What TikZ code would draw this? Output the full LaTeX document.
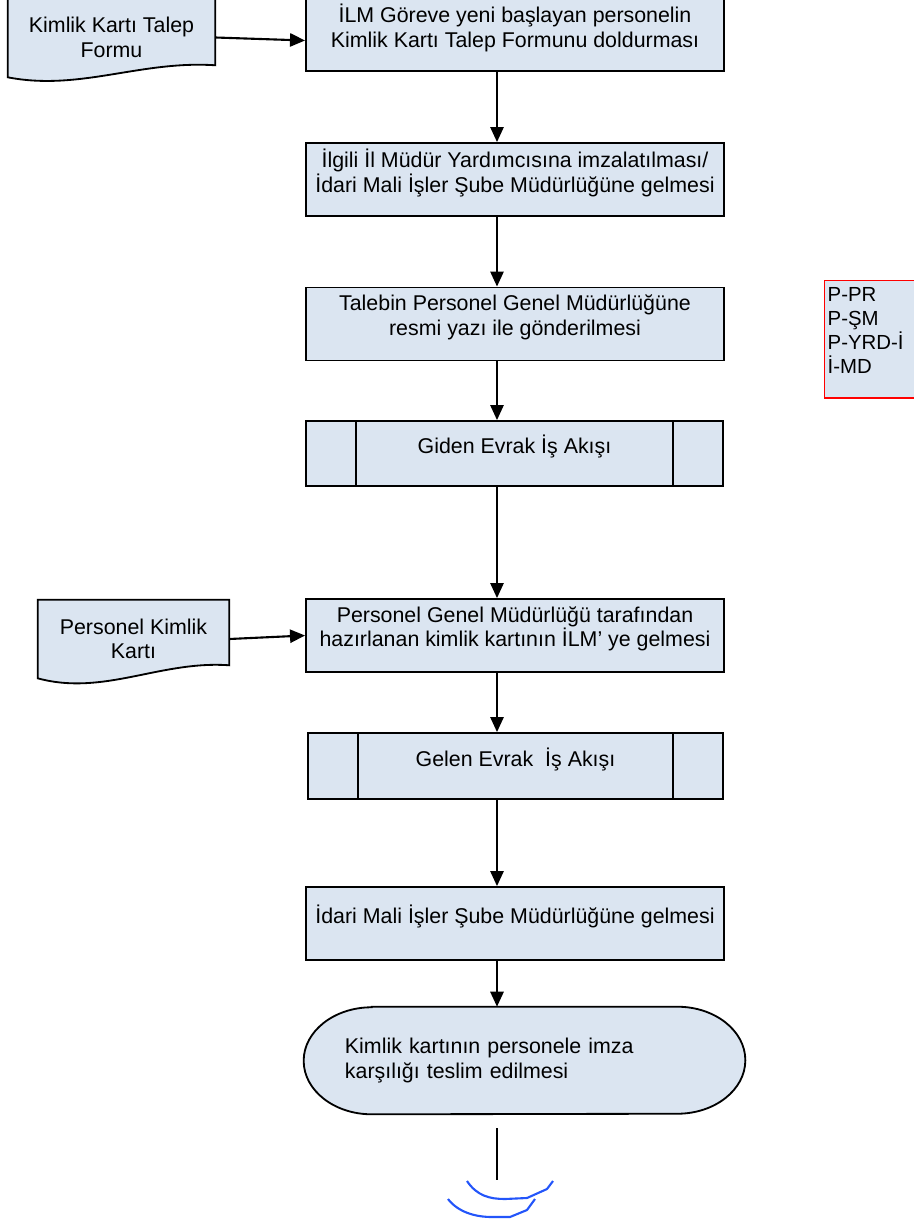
\documentclass[tikz,border=0pt]{standalone}
\usepackage{fontspec}
\setmainfont{Liberation Sans}
\usetikzlibrary{arrows.meta, backgrounds}
\definecolor{cardfill}{RGB}{219,229,241}
\definecolor{inkblue}{RGB}{35,85,250}
\tikzset{flowline/.style={line width=1.3pt}}
\tikzset{flowbox/.style={draw, flowline, fill=cardfill, inner sep=0pt, align=center, minimum width=10.45cm, minimum height=1.825cm, text depth=0.45cm, font=\fontsize{15.2}{17.5}\selectfont}}
\tikzset{subproc/.style={flowbox, minimum height=#1}}
\tikzset{subproc/.default=1.625cm}
\tikzset{docnode/.style={inner sep=0pt, align=center, font=\fontsize{15.2}{17.5}\selectfont}}
\tikzset{flowarrow/.style={line width=1.5pt, -{Triangle[length=0.375cm, width=0.33cm]}}}

\begin{document}
\begin{tikzpicture}[x=0.025cm, y=-0.025cm]
            \useasboundingbox (0, 0) rectangle (913, 1220);
            \coordinate (axis) at (497, 0);
            \node[flowbox] (ilm) at (515, 34.5) {İLM Göreve yeni başlayan personelin\\Kimlik Kartı Talep Formunu doldurması};
            \node[flowbox] (sign) at (515, 179.5) {İlgili İl Müdür Yardımcısına imzalatılması/\\İdari Mali İşler Şube Müdürlüğüne gelmesi};
            \node[flowbox] (req) at (515, 324) {Talebin Personel Genel Müdürlüğüne\\resmi yazı ile gönderilmesi};
            \node[subproc, minimum width=10.425cm] (gidn) at (514.5, 453.5) {Giden Evrak İş Akışı};
            \node[flowbox] (pgm) at (515, 635.5) {Personel Genel Müdürlüğü tarafından\\hazırlanan kimlik kartının İLM’ ye gelmesi};
            \node[subproc=1.65cm, minimum width=10.375cm] (geln) at (515.5, 766) {Gelen Evrak\ \ İş Akışı};
            \node[flowbox] (imis) at (515, 923.5) {İdari Mali İşler Şube Müdürlüğüne gelmesi};
            \node[docnode, text width=8.975cm, align=left, minimum width=11.025cm, minimum height=2.675cm, inner xsep=1.025cm] (ter) at (524.5, 1060.5) {Kimlik kartının personele imza\\karşılığı teslim edilmesi};
            \node[docnode, minimum width=5.175cm, minimum height=1.975cm] (form) at (111.5, 37.5) {Kimlik Kartı Talep\\Formu};
            \node[docnode, minimum width=4.775cm, minimum height=1.95cm] (kart) at (133.5, 639) {Personel Kimlik\\Kartı};
            \node[docnode, draw=red, line width=1pt, fill=cardfill, anchor=north west, align=left, text width=2.5cm, inner xsep=0.075cm, inner ysep=0.175cm, text depth=2.23cm, font=\fontsize{14.5}{17}\selectfont] (codes) at (824, 280) {P-PR\\P-ŞM\\P-YRD-İ\\İ-MD};
            \begin{scope}[on background layer]
                \draw[flowline, fill=cardfill] (form.north west) -- (form.north east) -- ([yshift=0.3cm]form.south east) .. controls ([xshift=-1.875cm, yshift=0.425cm]form.south east) and ([xshift=1.8cm, yshift=-0.35cm]form.south west) .. (form.south west) -- cycle;
                \draw[flowline, fill=cardfill] (kart.north west) -- (kart.north east) -- ([yshift=0.325cm]kart.south east) .. controls ([xshift=-1.725cm, yshift=0.45cm]kart.south east) and ([xshift=1.65cm, yshift=-0.45cm]kart.south west) .. (kart.south west) -- cycle;
                \draw[flowline, fill=cardfill] ([xshift=1.7cm]ter.north west) -- ([xshift=-1.7cm]ter.north east) arc[start angle=90, end angle=-90, x radius=1.7cm, y radius=1.3375cm] -- ([xshift=1.7cm]ter.south west) arc[start angle=270, end angle=90, x radius=1.7cm, y radius=1.3375cm] -- cycle;
            \end{scope}
            \foreach \proc in {gidn, geln} {
                \draw[flowline] ([xshift=1.275cm]\proc.north west) -- ([xshift=1.275cm]\proc.south west);
                \draw[flowline] ([xshift=-1.275cm]\proc.north east) -- ([xshift=-1.275cm]\proc.south east);
            }
            \draw[flowarrow] (form.east) -- ([yshift=-0.15cm]ilm.west);
            \draw[flowarrow] (kart.east) -- (pgm.west);
            \foreach \src/\dst in {ilm/sign, sign/req, req/gidn, gidn/pgm, pgm/geln, geln/imis, imis/ter} {
                \draw[flowarrow] (\src.south -| axis) -- (\dst.north -| axis);
            }
            \coordinate (tailtop) at (497, 1128);
            \coordinate (tailend) at (497, 1180);
            \draw[flowline] (tailtop) -- (tailend);
            \draw[inkblue, line width=1.5pt, line join=round] (467, 1181) .. controls (477, 1196) and (490, 1199) .. (505, 1199) -- (527, 1198) -- (547, 1189) -- (553, 1181);
            \draw[inkblue, line width=1.5pt, line join=round] (448, 1199) .. controls (458, 1212) and (475, 1217) .. (492, 1217) -- (510, 1217) -- (527, 1210) -- (535, 1199);
        \end{tikzpicture}
\end{document}
